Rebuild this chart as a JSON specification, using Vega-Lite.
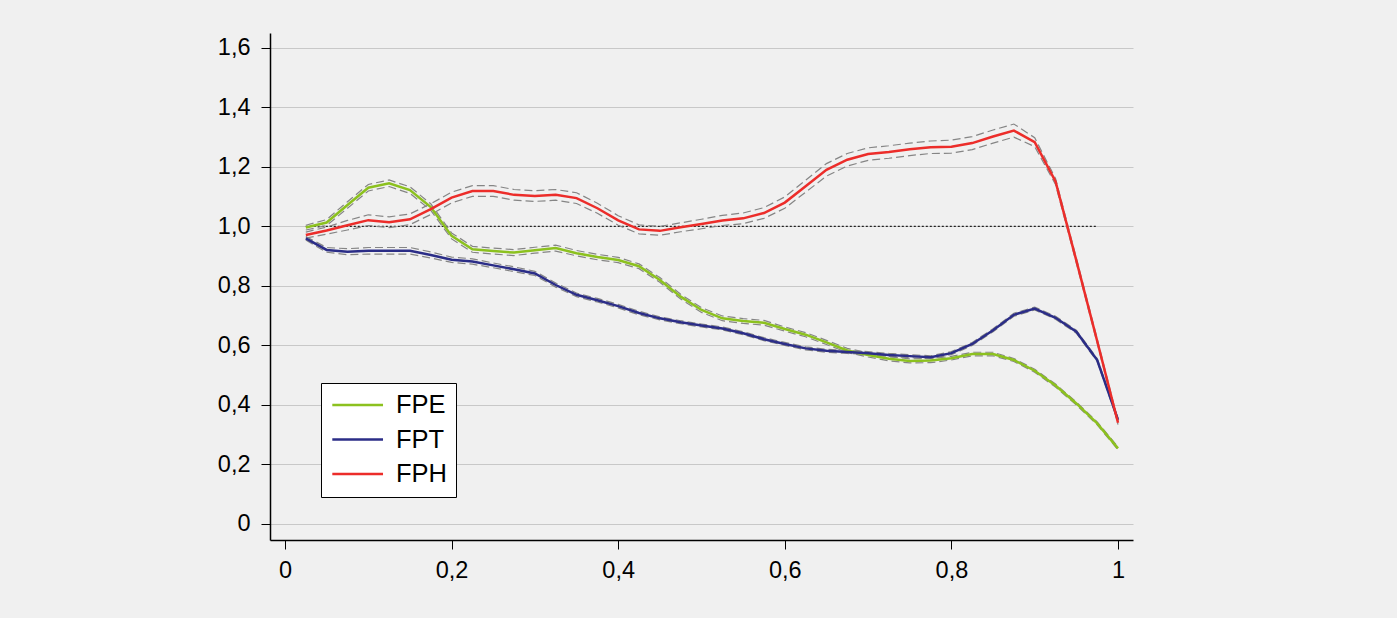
{
"$schema":"https://vega.github.io/schema/vega-lite/v6.json",
"autosize":{"type":"none"},
"padding":{"left":270,"top":33,"right":264,"bottom":78},
"width":863,"height":507,
"background":"#f0f0f0",
"config":{
 "view":{"stroke":null},
 "axis":{"labelFont":"Liberation Sans","labelFontSize":23.5,"labelColor":"#000","domainColor":"#000","tickColor":"#000","tickSize":9,"tickWidth":1,"domainWidth":1.5,"gridColor":"#c8c8c8","gridWidth":1}
},
"datasets":{
"ref":[{"x":0.025,"y":1},{"x":0.975,"y":1}],
"main":[
{"s":"FPE","x":0.025,"v":0.996,"lo":0.988,"hi":1.004},
{"s":"FPE","x":0.05,"v":1.013,"lo":1.003,"hi":1.023},
{"s":"FPE","x":0.075,"v":1.072,"lo":1.061,"hi":1.083},
{"s":"FPE","x":0.1,"v":1.13,"lo":1.119,"hi":1.141},
{"s":"FPE","x":0.125,"v":1.145,"lo":1.134,"hi":1.156},
{"s":"FPE","x":0.15,"v":1.122,"lo":1.111,"hi":1.133},
{"s":"FPE","x":0.175,"v":1.065,"lo":1.054,"hi":1.076},
{"s":"FPE","x":0.2,"v":0.968,"lo":0.958,"hi":0.978},
{"s":"FPE","x":0.225,"v":0.923,"lo":0.913,"hi":0.933},
{"s":"FPE","x":0.25,"v":0.917,"lo":0.907,"hi":0.927},
{"s":"FPE","x":0.275,"v":0.912,"lo":0.902,"hi":0.922},
{"s":"FPE","x":0.3,"v":0.92,"lo":0.91,"hi":0.93},
{"s":"FPE","x":0.325,"v":0.927,"lo":0.917,"hi":0.937},
{"s":"FPE","x":0.35,"v":0.91,"lo":0.901,"hi":0.919},
{"s":"FPE","x":0.375,"v":0.897,"lo":0.888,"hi":0.906},
{"s":"FPE","x":0.4,"v":0.887,"lo":0.878,"hi":0.896},
{"s":"FPE","x":0.425,"v":0.866,"lo":0.858,"hi":0.874},
{"s":"FPE","x":0.45,"v":0.82,"lo":0.812,"hi":0.828},
{"s":"FPE","x":0.475,"v":0.764,"lo":0.756,"hi":0.772},
{"s":"FPE","x":0.5,"v":0.719,"lo":0.711,"hi":0.727},
{"s":"FPE","x":0.525,"v":0.691,"lo":0.683,"hi":0.699},
{"s":"FPE","x":0.55,"v":0.682,"lo":0.674,"hi":0.69},
{"s":"FPE","x":0.575,"v":0.676,"lo":0.668,"hi":0.684},
{"s":"FPE","x":0.6,"v":0.655,"lo":0.648,"hi":0.662},
{"s":"FPE","x":0.625,"v":0.636,"lo":0.629,"hi":0.643},
{"s":"FPE","x":0.65,"v":0.61,"lo":0.603,"hi":0.617},
{"s":"FPE","x":0.675,"v":0.583,"lo":0.576,"hi":0.59},
{"s":"FPE","x":0.7,"v":0.568,"lo":0.561,"hi":0.575},
{"s":"FPE","x":0.725,"v":0.555,"lo":0.548,"hi":0.562},
{"s":"FPE","x":0.75,"v":0.548,"lo":0.541,"hi":0.555},
{"s":"FPE","x":0.775,"v":0.549,"lo":0.542,"hi":0.556},
{"s":"FPE","x":0.8,"v":0.557,"lo":0.551,"hi":0.563},
{"s":"FPE","x":0.825,"v":0.571,"lo":0.565,"hi":0.577},
{"s":"FPE","x":0.85,"v":0.571,"lo":0.565,"hi":0.577},
{"s":"FPE","x":0.875,"v":0.551,"lo":0.546,"hi":0.556},
{"s":"FPE","x":0.9,"v":0.515,"lo":0.51,"hi":0.52},
{"s":"FPE","x":0.925,"v":0.465,"lo":0.46,"hi":0.47},
{"s":"FPE","x":0.95,"v":0.405,"lo":0.4,"hi":0.41},
{"s":"FPE","x":0.975,"v":0.338,"lo":0.333,"hi":0.343},
{"s":"FPE","x":1,"v":0.254,"lo":0.249,"hi":0.259},
{"s":"FPT","x":0.025,"v":0.96,"lo":0.954,"hi":0.966},
{"s":"FPT","x":0.05,"v":0.921,"lo":0.913,"hi":0.929},
{"s":"FPT","x":0.075,"v":0.915,"lo":0.905,"hi":0.925},
{"s":"FPT","x":0.1,"v":0.918,"lo":0.907,"hi":0.929},
{"s":"FPT","x":0.125,"v":0.918,"lo":0.907,"hi":0.929},
{"s":"FPT","x":0.15,"v":0.918,"lo":0.907,"hi":0.929},
{"s":"FPT","x":0.175,"v":0.904,"lo":0.894,"hi":0.914},
{"s":"FPT","x":0.2,"v":0.888,"lo":0.879,"hi":0.897},
{"s":"FPT","x":0.225,"v":0.882,"lo":0.873,"hi":0.891},
{"s":"FPT","x":0.25,"v":0.869,"lo":0.861,"hi":0.877},
{"s":"FPT","x":0.275,"v":0.856,"lo":0.848,"hi":0.864},
{"s":"FPT","x":0.3,"v":0.842,"lo":0.835,"hi":0.849},
{"s":"FPT","x":0.325,"v":0.803,"lo":0.796,"hi":0.81},
{"s":"FPT","x":0.35,"v":0.77,"lo":0.764,"hi":0.776},
{"s":"FPT","x":0.375,"v":0.752,"lo":0.746,"hi":0.758},
{"s":"FPT","x":0.4,"v":0.732,"lo":0.726,"hi":0.738},
{"s":"FPT","x":0.425,"v":0.709,"lo":0.703,"hi":0.715},
{"s":"FPT","x":0.45,"v":0.691,"lo":0.686,"hi":0.696},
{"s":"FPT","x":0.475,"v":0.678,"lo":0.673,"hi":0.683},
{"s":"FPT","x":0.5,"v":0.667,"lo":0.662,"hi":0.672},
{"s":"FPT","x":0.525,"v":0.657,"lo":0.652,"hi":0.662},
{"s":"FPT","x":0.55,"v":0.641,"lo":0.636,"hi":0.646},
{"s":"FPT","x":0.575,"v":0.621,"lo":0.616,"hi":0.626},
{"s":"FPT","x":0.6,"v":0.605,"lo":0.6,"hi":0.61},
{"s":"FPT","x":0.625,"v":0.59,"lo":0.585,"hi":0.595},
{"s":"FPT","x":0.65,"v":0.582,"lo":0.577,"hi":0.587},
{"s":"FPT","x":0.675,"v":0.578,"lo":0.573,"hi":0.583},
{"s":"FPT","x":0.7,"v":0.574,"lo":0.569,"hi":0.579},
{"s":"FPT","x":0.725,"v":0.568,"lo":0.563,"hi":0.573},
{"s":"FPT","x":0.75,"v":0.564,"lo":0.559,"hi":0.569},
{"s":"FPT","x":0.775,"v":0.56,"lo":0.555,"hi":0.565},
{"s":"FPT","x":0.8,"v":0.574,"lo":0.569,"hi":0.579},
{"s":"FPT","x":0.825,"v":0.605,"lo":0.6,"hi":0.61},
{"s":"FPT","x":0.85,"v":0.651,"lo":0.646,"hi":0.656},
{"s":"FPT","x":0.875,"v":0.703,"lo":0.698,"hi":0.708},
{"s":"FPT","x":0.9,"v":0.724,"lo":0.719,"hi":0.729},
{"s":"FPT","x":0.925,"v":0.693,"lo":0.688,"hi":0.698},
{"s":"FPT","x":0.95,"v":0.646,"lo":0.641,"hi":0.651},
{"s":"FPT","x":0.975,"v":0.551,"lo":0.546,"hi":0.556},
{"s":"FPT","x":1,"v":0.35,"lo":0.345,"hi":0.355},
{"s":"FPH","x":0.025,"v":0.971,"lo":0.961,"hi":0.981},
{"s":"FPH","x":0.05,"v":0.986,"lo":0.974,"hi":0.998},
{"s":"FPH","x":0.075,"v":1.004,"lo":0.988,"hi":1.02},
{"s":"FPH","x":0.1,"v":1.021,"lo":1.003,"hi":1.039},
{"s":"FPH","x":0.125,"v":1.014,"lo":0.996,"hi":1.032},
{"s":"FPH","x":0.15,"v":1.024,"lo":1.006,"hi":1.042},
{"s":"FPH","x":0.175,"v":1.058,"lo":1.04,"hi":1.076},
{"s":"FPH","x":0.2,"v":1.097,"lo":1.079,"hi":1.115},
{"s":"FPH","x":0.225,"v":1.119,"lo":1.101,"hi":1.137},
{"s":"FPH","x":0.25,"v":1.119,"lo":1.101,"hi":1.137},
{"s":"FPH","x":0.275,"v":1.106,"lo":1.088,"hi":1.124},
{"s":"FPH","x":0.3,"v":1.102,"lo":1.084,"hi":1.12},
{"s":"FPH","x":0.325,"v":1.106,"lo":1.088,"hi":1.124},
{"s":"FPH","x":0.35,"v":1.095,"lo":1.077,"hi":1.113},
{"s":"FPH","x":0.375,"v":1.061,"lo":1.044,"hi":1.078},
{"s":"FPH","x":0.4,"v":1.02,"lo":1.004,"hi":1.036},
{"s":"FPH","x":0.425,"v":0.99,"lo":0.975,"hi":1.005},
{"s":"FPH","x":0.45,"v":0.985,"lo":0.97,"hi":1.0},
{"s":"FPH","x":0.475,"v":0.997,"lo":0.982,"hi":1.012},
{"s":"FPH","x":0.5,"v":1.008,"lo":0.992,"hi":1.024},
{"s":"FPH","x":0.525,"v":1.02,"lo":1.003,"hi":1.037},
{"s":"FPH","x":0.55,"v":1.027,"lo":1.009,"hi":1.045},
{"s":"FPH","x":0.575,"v":1.045,"lo":1.027,"hi":1.063},
{"s":"FPH","x":0.6,"v":1.08,"lo":1.061,"hi":1.099},
{"s":"FPH","x":0.625,"v":1.135,"lo":1.115,"hi":1.155},
{"s":"FPH","x":0.65,"v":1.19,"lo":1.169,"hi":1.211},
{"s":"FPH","x":0.675,"v":1.224,"lo":1.203,"hi":1.245},
{"s":"FPH","x":0.7,"v":1.243,"lo":1.222,"hi":1.264},
{"s":"FPH","x":0.725,"v":1.25,"lo":1.229,"hi":1.271},
{"s":"FPH","x":0.75,"v":1.259,"lo":1.238,"hi":1.28},
{"s":"FPH","x":0.775,"v":1.266,"lo":1.245,"hi":1.287},
{"s":"FPH","x":0.8,"v":1.268,"lo":1.246,"hi":1.29},
{"s":"FPH","x":0.825,"v":1.28,"lo":1.258,"hi":1.302},
{"s":"FPH","x":0.85,"v":1.302,"lo":1.28,"hi":1.324},
{"s":"FPH","x":0.875,"v":1.322,"lo":1.3,"hi":1.344},
{"s":"FPH","x":0.9,"v":1.283,"lo":1.268,"hi":1.298},
{"s":"FPH","x":0.925,"v":1.151,"lo":1.141,"hi":1.161},
{"s":"FPH","x":0.95,"v":0.885,"lo":0.877,"hi":0.893},
{"s":"FPH","x":0.975,"v":0.615,"lo":0.608,"hi":0.622},
{"s":"FPH","x":1,"v":0.34,"lo":0.334,"hi":0.346}
]},
"layer":[
{"data":{"name":"ref"},
 "mark":{"type":"line","color":"#222222","strokeDash":[2,2],"strokeWidth":1.2},
 "encoding":{
  "x":{"field":"x","type":"quantitative","scale":{"domain":[-0.018,1.018],"nice":false,"zero":false},
       "axis":{"title":null,"values":[0,0.2,0.4,0.6,0.8,1],"grid":false,"labelPadding":9,"labelExpr":"replace(format(datum.value,'~g'),'.',',')"}},
  "y":{"field":"y","type":"quantitative","scale":{"domain":[-0.054,1.65],"nice":false,"zero":false},
       "axis":{"title":null,"values":[0,0.2,0.4,0.6,0.8,1,1.2,1.4,1.6],"grid":true,"labelPadding":11,"labelExpr":"datum.value == 0 ? '0' : replace(format(datum.value,'.1f'),'.',',')"}}
 }},
{"data":{"name":"main"},
 "mark":{"type":"line","color":"#858585","strokeDash":[8,4],"strokeWidth":1.2},
 "encoding":{
  "x":{"field":"x","type":"quantitative","scale":{"domain":[-0.018,1.018],"nice":false,"zero":false},"axis":{"title":null}},
  "y":{"field":"lo","type":"quantitative","scale":{"domain":[-0.054,1.65],"nice":false,"zero":false},"axis":{"title":null}},
  "detail":{"field":"s"}
 }},
{"data":{"name":"main"},
 "mark":{"type":"line","color":"#858585","strokeDash":[8,4],"strokeWidth":1.2},
 "encoding":{
  "x":{"field":"x","type":"quantitative","scale":{"domain":[-0.018,1.018],"nice":false,"zero":false},"axis":{"title":null}},
  "y":{"field":"hi","type":"quantitative","scale":{"domain":[-0.054,1.65],"nice":false,"zero":false},"axis":{"title":null}},
  "detail":{"field":"s"}
 }},
{"data":{"name":"main"},
 "mark":{"type":"line","strokeWidth":2.5},
 "encoding":{
  "x":{"field":"x","type":"quantitative","scale":{"domain":[-0.018,1.018],"nice":false,"zero":false},"axis":{"title":null}},
  "y":{"field":"v","type":"quantitative","scale":{"domain":[-0.054,1.65],"nice":false,"zero":false},"axis":{"title":null}},
  "color":{"field":"s","type":"nominal",
   "scale":{"domain":["FPE","FPT","FPH"],"range":["#8cc11f","#2b2d87","#ec2d2a"]},
   "legend":{"title":null,"orient":"none","legendX":51,"legendY":350,"fillColor":"white","strokeColor":"black","padding":9,"rowPadding":7.5,
     "symbolType":"M-0.93,0H3.48","symbolSize":529,"symbolStrokeWidth":2.5,"labelOffset":40,
     "labelFont":"Liberation Sans","labelFontSize":25.5,"labelColor":"black","cornerRadius":0}}
 }}
]
}
